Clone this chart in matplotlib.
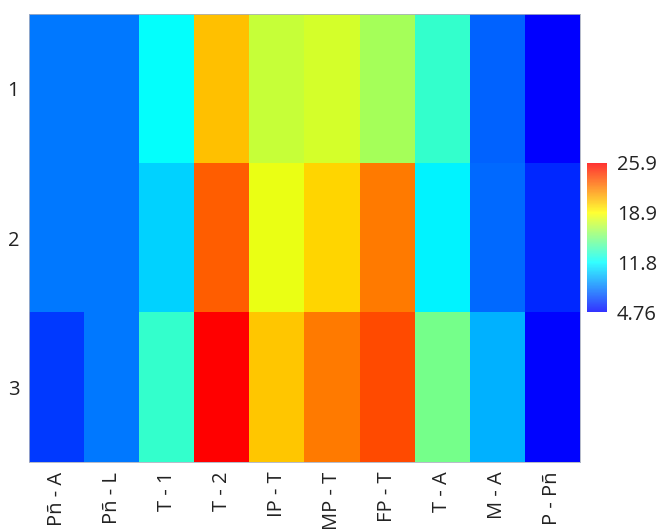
import matplotlib
matplotlib.use("Agg")
import matplotlib.pyplot as plt
import numpy as np
from matplotlib.colors import LinearSegmentedColormap

plt.rcParams['font.family'] = ['Open Sans', 'DejaVu Sans']

columns = ["Pñ - A", "Pñ - L", "T - 1", "T - 2", "IP - T", "MP - T", "FP - T", "T - A", "M - A", "P - Pñ"]
rows = ["1", "2", "3"]
row1 = [8.1, 8.1, 11.9, 20.6, 17.3, 17.7, 16.4, 13.2, 7.5, 4.76]
row2 = [8.1, 8.1, 10.6, 23.3, 18.3, 20.0, 22.5, 11.5, 7.7, 5.9]
row3 = [6.4, 8.1, 13.2, 25.9, 20.4, 22.5, 23.8, 15.0, 9.7, 4.9]
cbar_ticks = [4.76, 11.8, 18.9, 25.9]

data = np.array([row1, row2, row3])
vmin, vmax = 4.76, 25.9

cmap = LinearSegmentedColormap.from_list(
    "bcyr", [(0.0, (0, 0, 1)), (1/3, (0, 1, 1)), (0.5, (0.5, 1, 0.5)),
             (2/3, (1, 1, 0)), (1.0, (1, 0, 0))])

fig = plt.figure(figsize=(6.57, 5.29), dpi=100)
ax = fig.add_axes([29/657, 1 - 462/529, (580 - 29)/657, (462 - 14)/529])
ax.imshow(data, cmap=cmap, vmin=vmin, vmax=vmax, aspect="auto", interpolation="nearest")
ax.set_xticks(range(len(columns)))
ax.set_xticklabels(columns, rotation=90, fontsize=14.5, color="#222222")
ax.set_yticks(range(len(rows)))
ax.set_yticklabels(rows, fontsize=14.5, color="#222222")
ax.tick_params(length=0, pad=7)
for s in ax.spines.values():
    s.set_color("#aab0c0")
    s.set_linewidth(0.6)

cax = fig.add_axes([587/657, 1 - 312/529, 20/657, (312 - 163)/529])
sm = plt.cm.ScalarMappable(cmap=cmap, norm=plt.Normalize(vmin, vmax))
cb = fig.colorbar(sm, cax=cax, ticks=cbar_ticks)
cb.ax.set_yticklabels(["4.76", "11.8", "18.9", "25.9"], fontsize=14.5, color="#222222")
cb.ax.tick_params(length=0, pad=7)
cb.outline.set_visible(False)
cb.solids.set_alpha(0.8)

fig.savefig("out.png", dpi=100)
